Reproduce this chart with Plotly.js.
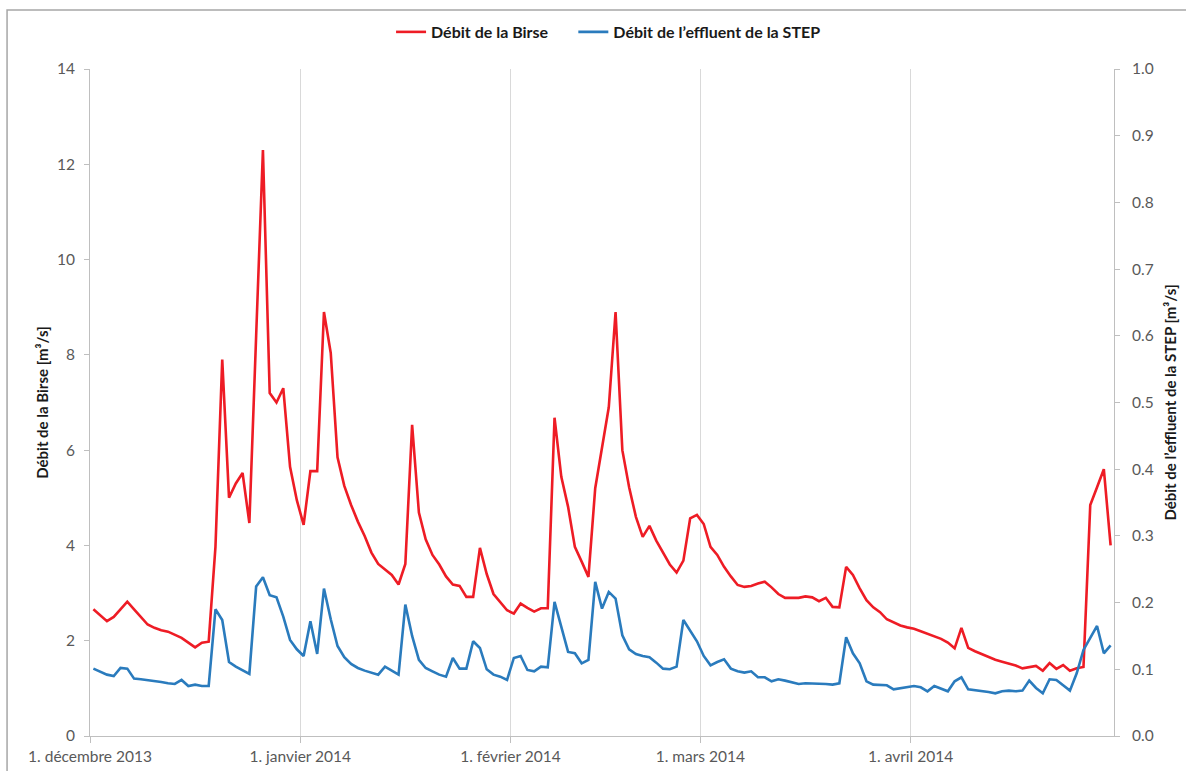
<!DOCTYPE html>
<html>
<head>
<meta charset="utf-8">
<script src="https://cdn.plot.ly/plotly-3.0.1.min.js"></script>
<style>
  html, body { margin: 0; padding: 0; background: #ffffff; }
  #chart { width: 1186px; height: 771px; }
</style>
</head>
<body>
<div id="chart"></div>
<script>
// Daily discharge, 1 December 2013 to 30 April 2014 (one value per day)
const startDay = '2013-12-01';

// Débit de la Birse [m³/s], left axis
const birseDec = [2.66, 2.53, 2.41, 2.5, 2.66, 2.82, 2.66, 2.5, 2.34, 2.27, 2.22, 2.19, 2.12, 2.06, 1.96, 1.86,
  1.96, 1.98, 3.97, 7.9, 5.0, 5.3, 5.52, 4.47, 8.4, 12.3, 7.2, 7.0, 7.3, 5.65, 4.95];
const birseJan = [4.43, 5.56, 5.56, 8.9, 8.04, 5.85, 5.25, 4.85, 4.5, 4.2, 3.85, 3.61, 3.5, 3.38, 3.18, 3.61,
  6.53, 4.69, 4.13, 3.8, 3.6, 3.35, 3.18, 3.15, 2.92, 2.92, 3.95, 3.4, 2.98, 2.8, 2.64];
const birseFeb = [2.57, 2.78, 2.69, 2.61, 2.68, 2.68, 6.68, 5.44, 4.81, 3.97, 3.66, 3.34, 5.2, 6.1, 6.9, 8.9,
  6.0, 5.22, 4.6, 4.18, 4.41, 4.1, 3.85, 3.6, 3.43, 3.68, 4.57, 4.64];
const birseMar = [4.45, 3.97, 3.8, 3.55, 3.35, 3.17, 3.13, 3.15, 3.2, 3.24, 3.12, 2.98, 2.9, 2.9, 2.9, 2.93,
  2.91, 2.83, 2.9, 2.71, 2.7, 3.55, 3.38, 3.1, 2.85, 2.7, 2.6, 2.45, 2.38, 2.32, 2.28];
const birseApr = [2.25, 2.2, 2.15, 2.1, 2.04, 1.96, 1.84, 2.27, 1.85, 1.78, 1.72, 1.66, 1.6, 1.56, 1.52, 1.48,
  1.42, 1.45, 1.47, 1.37, 1.53, 1.41, 1.49, 1.37, 1.42, 1.45, 4.85, 5.22, 5.6, 4.0];

// Débit de l'effluent de la STEP [m³/s], right axis
const stepDec = [0.101, 0.097, 0.092, 0.09, 0.102, 0.101, 0.086, 0.085, 0.084, 0.083, 0.081, 0.079, 0.078, 0.084,
  0.075, 0.077, 0.075, 0.075, 0.19, 0.174, 0.111, 0.104, 0.098, 0.093, 0.224, 0.238, 0.211, 0.208, 0.179, 0.144, 0.13];
const stepJan = [0.12, 0.172, 0.123, 0.221, 0.175, 0.135, 0.118, 0.108, 0.102, 0.098, 0.095, 0.092, 0.104, 0.098,
  0.092, 0.197, 0.15, 0.114, 0.102, 0.097, 0.092, 0.089, 0.117, 0.101, 0.101, 0.142, 0.132, 0.1, 0.092, 0.089, 0.084];
const stepFeb = [0.117, 0.12, 0.099, 0.097, 0.104, 0.103, 0.201, 0.164, 0.126, 0.124, 0.109, 0.114, 0.231, 0.191,
  0.216, 0.206, 0.151, 0.13, 0.123, 0.12, 0.118, 0.11, 0.101, 0.1, 0.104, 0.174, 0.158, 0.142];
const stepMar = [0.12, 0.106, 0.111, 0.115, 0.101, 0.097, 0.095, 0.097, 0.088, 0.088, 0.082, 0.085, 0.083, 0.08,
  0.078, 0.079, 0.079, 0.078, 0.078, 0.077, 0.079, 0.148, 0.124, 0.109, 0.082, 0.077, 0.077, 0.076, 0.07, 0.072, 0.074];
const stepApr = [0.075, 0.073, 0.067, 0.075, 0.071, 0.067, 0.082, 0.088, 0.07, 0.069, 0.068, 0.066, 0.064, 0.067,
  0.068, 0.067, 0.068, 0.083, 0.072, 0.064, 0.085, 0.084, 0.076, 0.068, 0.094, 0.129, 0.147, 0.165, 0.124, 0.136];

// Month ticks on the date axis
const monthTicks = ['2013-12-01', '2014-01-01', '2014-02-01', '2014-03-01', '2014-04-01'];
const monthLabels = ['1. décembre 2013', '1. janvier 2014', '1. février 2014', '1. mars 2014', '1. avril 2014'];

const seriesNames = ['Débit de la Birse', 'Débit de l\u2019effluent de la STEP'];
const axisTitles = ['Débit de la Birse [m³/s]', 'Débit de l\u2019effluent de la STEP [m³/s]'];

const birse = [].concat(birseDec, birseJan, birseFeb, birseMar, birseApr);
const step = [].concat(stepDec, stepJan, stepFeb, stepMar, stepApr);

// each daily value sits in the middle of its day
const t0 = Date.parse(startDay + 'T12:00:00Z');
const days = birse.map((_, i) => new Date(t0 + i * 86400000).toISOString().slice(0, 10) + ' 12:00');

const font = 'Lato, "Open Sans", sans-serif';
const tickFont = { family: font, size: 15.5, color: '#595959' };
const titleFont = { family: font, size: 15, color: '#1a1a1a', weight: 'bold' };
const legendFont = { family: font, size: 16, color: '#1a1a1a', weight: 'bold' };
const axisGray = '#bfbfbf';

const traces = [
  {
    x: days, y: birse, name: seriesNames[0], type: 'scatter', mode: 'lines',
    line: { color: '#ee1c25', width: 2.6 }, yaxis: 'y', legend: 'legend'
  },
  {
    x: days, y: step, name: seriesNames[1], type: 'scatter', mode: 'lines',
    line: { color: '#2a7bbd', width: 2.6 }, yaxis: 'y2', legend: 'legend2'
  }
];

// one legend box per series, side by side above the plot
const legendBase = {
  orientation: 'h', y: 1.0555, yanchor: 'middle', xanchor: 'left',
  font: legendFont, itemwidth: 30, bgcolor: 'rgba(0,0,0,0)'
};

const layout = {
  width: 1186, height: 771,
  margin: { l: 90, r: 72, t: 69, b: 35 },
  paper_bgcolor: '#ffffff', plot_bgcolor: '#ffffff',
  showlegend: true,
  legend: Object.assign({}, legendBase, { x: 0.294 }),
  legend2: Object.assign({}, legendBase, { x: 0.472 }),
  xaxis: {
    type: 'date', range: ['2013-12-01', '2014-05-01'],
    tickmode: 'array', tickvals: monthTicks, ticktext: monthLabels,
    showgrid: true, gridcolor: '#d9d9d9', gridwidth: 1,
    showline: true, linecolor: axisGray, linewidth: 1,
    ticks: 'outside', ticklen: 6, tickcolor: axisGray,
    tickfont: tickFont, zeroline: false, fixedrange: true
  },
  yaxis: {
    range: [0, 14], dtick: 2, tick0: 0,
    showgrid: false, zeroline: false,
    showline: true, linecolor: axisGray, linewidth: 1,
    ticks: 'outside', ticklen: 5, tickcolor: axisGray,
    tickfont: tickFont, ticklabelstandoff: 6,
    title: { text: axisTitles[0], font: titleFont, standoff: 4 }
  },
  yaxis2: {
    range: [0, 1], dtick: 0.1, tick0: 0, tickformat: '.1f',
    overlaying: 'y', side: 'right',
    showgrid: false, zeroline: false,
    showline: true, linecolor: axisGray, linewidth: 1,
    ticks: 'outside', ticklen: 5, tickcolor: axisGray,
    tickfont: tickFont, ticklabelstandoff: 9,
    title: { text: axisTitles[1], font: titleFont, standoff: 12 }
  },
  shapes: [
    // chart-area frame
    {
      type: 'rect', xref: 'paper', yref: 'paper',
      x0: -0.081, x1: 1.2, y0: -0.2, y1: 1.0885,
      line: { color: '#a6a6a6', width: 1.5 }, fillcolor: 'rgba(0,0,0,0)', layer: 'below'
    }
  ]
};

Plotly.newPlot('chart', traces, layout, { displayModeBar: false, staticPlot: true });
</script>
</body>
</html>
